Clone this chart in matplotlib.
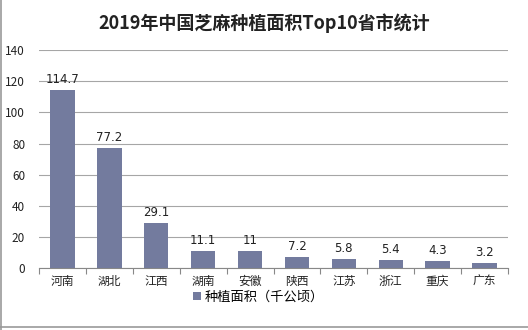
# 2019年中国芝麻种植面积Top10省市统计
import matplotlib.pyplot as plt
import numpy as np
from matplotlib.lines import Line2D

plt.rcParams['font.family'] = ['Noto Sans CJK SC', 'DejaVu Sans']

provinces = ["河南", "湖北", "江西", "湖南", "安徽", "陕西", "江苏", "浙江", "重庆", "广东"]
area = [114.7, 77.2, 29.1, 11.1, 11, 7.2, 5.8, 5.4, 4.3, 3.2]
labels = ["114.7", "77.2", "29.1", "11.1", "11", "7.2", "5.8", "5.4", "4.3", "3.2"]

fig = plt.figure(figsize=(5.28, 3.3), dpi=100)
ax = fig.add_axes([0.074, 0.188, 0.888, 0.66])

x = np.arange(len(provinces))
bars = ax.bar(x, area, width=0.52, color='#737b9e', zorder=3, label='种植面积（千公顷）')
for xi, v, t in zip(x, area, labels):
    ax.text(xi, v + 2.5, t, ha='center', va='bottom', fontsize=8.5, color='#222222',
            family=['DejaVu Sans'])

ax.set_xlim(-0.5, len(provinces) - 0.5)
ax.set_ylim(0, 140)
ax.set_yticks(range(0, 141, 20))
ax.yaxis.grid(True, color='#a6a6a6', linewidth=0.8, zorder=0)
ax.tick_params(axis='y', length=0, labelsize=8.5, colors='#222222', pad=10)

ax.set_xticks(x)
ax.set_xticklabels(provinces, fontsize=8.5, color='#222222')
ax.set_xticks(np.arange(-0.5, len(provinces)), minor=True)
ax.tick_params(axis='x', which='major', length=0, pad=5)
ax.tick_params(axis='x', which='minor', length=4, color='#888888', width=0.8)

for s in ['top', 'right', 'left']:
    ax.spines[s].set_visible(False)
ax.spines['bottom'].set_color('#888888')
ax.spines['bottom'].set_linewidth(0.8)

fig.suptitle('2019年中国芝麻种植面积Top10省市统计', x=0.5, y=0.96,
             fontsize=13, fontweight='bold', color='#222222')

fig.legend(handles=[bars], loc='center', bbox_to_anchor=(0.49, 0.1), frameon=False,
           fontsize=9.5, handlelength=0.6, handleheight=0.6, handletextpad=0.3)

# outer frame lines
fig.add_artist(Line2D([0.002, 0.002], [0, 1], color='#999999', linewidth=1.2,
                      transform=fig.transFigure))
fig.add_artist(Line2D([0, 1], [0.008, 0.008], color='#999999', linewidth=1.2,
                      transform=fig.transFigure))

plt.savefig('out.png', dpi=100)
